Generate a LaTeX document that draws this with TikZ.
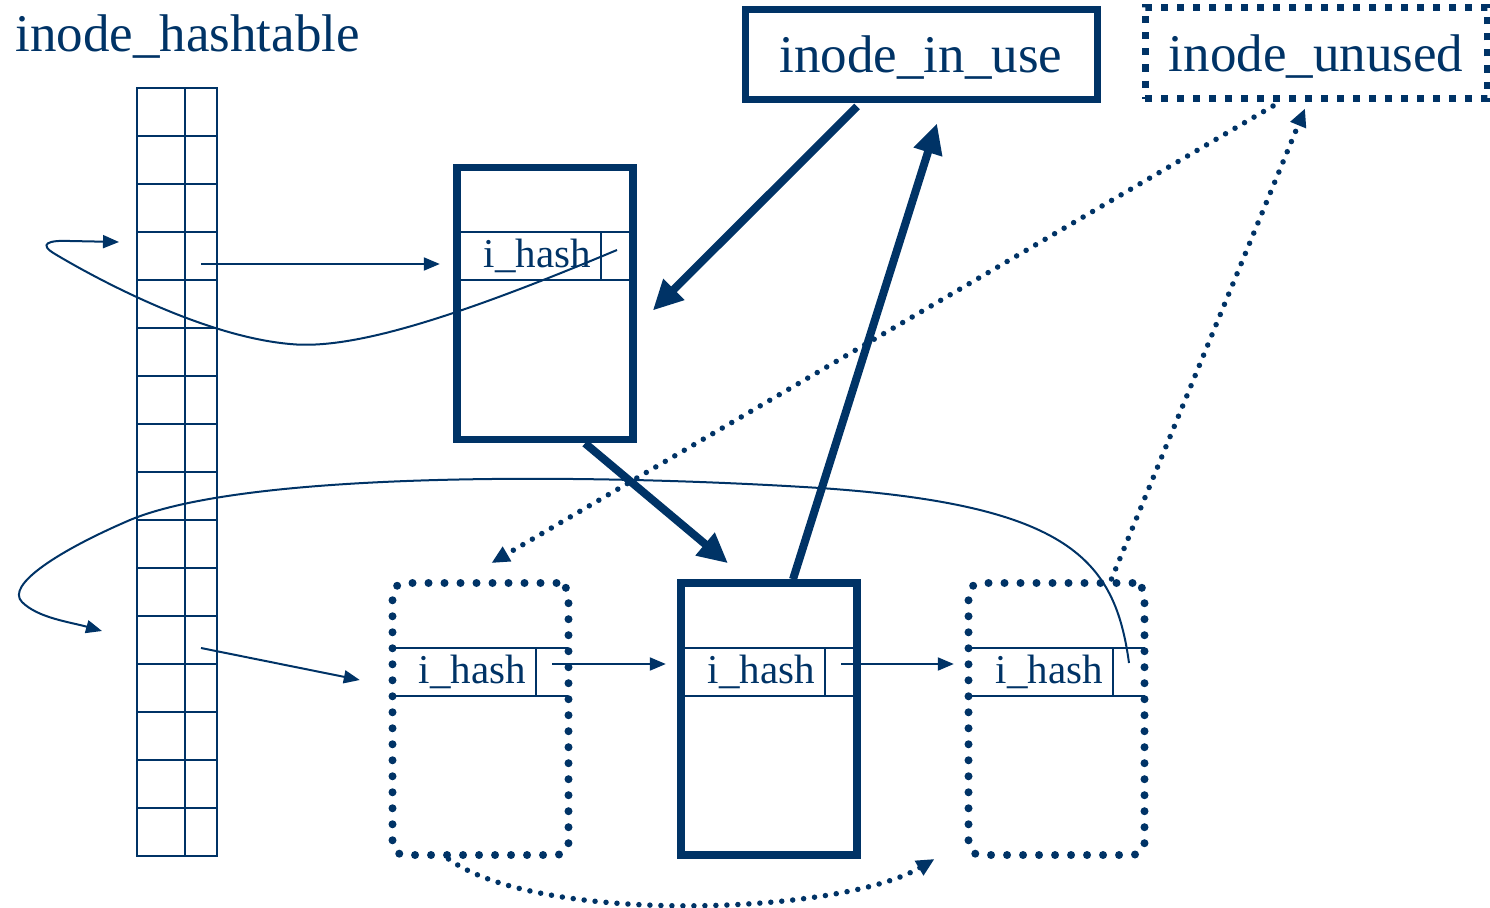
\documentclass[tikz,border=0pt]{standalone}
\usepackage{fontspec}
\setmainfont{Liberation Serif}
\usetikzlibrary{arrows.meta}
\definecolor{navy}{RGB}{0,51,102}

\begin{document}
\begin{tikzpicture}[x=1pt, y=-1pt, color=navy,
                    bigtext/.style={font=\fontsize{53}{60}\selectfont, text depth=0pt},
                    cell/.style={draw, line width=2pt, inner sep=0pt, minimum height=48pt},
                    inode/.style={draw, line width=7.5pt, inner sep=0pt, minimum width=176pt, minimum height=272pt},
                    freeinode/.style={draw, line width=8pt, dash pattern=on 0pt off 16pt, line cap=round,
                                      rounded corners=12pt, inner sep=0pt, minimum width=176pt, minimum height=272pt},
                    hashtxt/.style={inner xsep=10pt, inner ysep=0pt, text width=124pt, align=right,
                                    minimum height=48pt, font=\fontsize{41}{41}\selectfont},
                    ptr/.style={inner sep=0pt, minimum width=32pt, minimum height=48pt},
                    row/.style={line width=2pt},
                    link/.style={line width=2pt, -{Triangle[length=16pt, width=13pt]}},
                    bold/.style={line width=8pt, -{Triangle[length=30pt, width=28pt]}},
                    dots/.style={line width=5.5pt, dash pattern=on 0pt off 11pt, line cap=round,
                                 -{Triangle[length=18pt, width=16pt]}}]

\useasboundingbox (0,0) rectangle (1490,907);

% Hash table
\node[bigtext, anchor=base west] (title) at (12,52) {inode\_hashtable};
\foreach \i in {1,...,16} {
    \node[cell, minimum width=48pt] (k\i) at (161, 64+48*\i) {};
    \node[cell, minimum width=32pt] (p\i) at (201, 64+48*\i) {};
}

% Lists
\node[bigtext, draw, line width=7pt, minimum width=352pt, minimum height=89pt] (use) at (921,54.5) {inode\_in\_use};
\node[bigtext, draw, line width=7pt, dash pattern=on 7pt off 9pt, minimum width=342pt, minimum height=91pt] (unused) at (1316,53) {inode\_unused};

% Inodes
\node[inode] (iA) at (545,303.5) {};
\node[freeinode] (iB) at (480.5,719) {};
\node[inode] (iC) at (769,719) {};
\node[freeinode] (iD) at (1056.5,719) {};

\foreach \n/\x/\y in {A/529/256, B/464/672, C/753/672, D/1041/672} {
    \node[hashtxt] (h\n) at (\x,\y) {i\_hash};
    \node[ptr] (p\n) at (\x+88,\y) {};
    \draw[row] (h\n.north west) -- (p\n.north east)
               (h\n.south west) -- (p\n.south east)
               (h\n.north east) -- (h\n.south east);
}

% Hash chains
\draw[link] ([yshift=-8pt]p4.center) -- ([shift={(-17pt,-8pt)}]hA.west);
\draw[link] ([yshift=-8pt]p12.center) -- ([shift={(-32pt,-8pt)}]hB.west);
\draw[link] ([yshift=8pt]pB.center) -- ([shift={(-15pt,8pt)}]hC.west);
\draw[link] ([yshift=8pt]pC.center) -- ([shift={(-15pt,8pt)}]hD.west);

% Back pointers
\draw[link] ([yshift=6pt]pA.center) .. controls (450,320) and (350,350) .. (290,344)
    .. controls (200,336) and (90,275) .. (55,254)
    .. controls (38,244) and (48,240) .. (70,241) -- ([shift={(-17pt,14pt)}]k4.west);
\draw[link] ([yshift=9pt]pD.center) .. controls (1115,560) and (1070,505) .. (820,488)
    .. controls (600,474) and (250,470) .. (130,520)
    .. controls (60,550) and (5,585) .. (22,602)
    .. controls (38,618) and (70,622) .. ([shift={(-34pt,9pt)}]k12.west);

% In-use list
\draw[bold] ([shift={(-64pt,-4pt)}]use.south) -- ([shift={(16pt,-7pt)}]iA.east);
\draw[bold] ([xshift=40pt]iA.south) -- ([shift={(-41pt,16pt)}]iC.north);
\draw[bold] ([xshift=24pt]iC.north) -- ([shift={(16pt,-21pt)}]use.south);

% Unused list
\draw[dots] ([shift={(-43pt,-4pt)}]unused.south) -- ([shift={(11pt,16pt)}]iB.north);
\draw[dots] ([xshift=55pt]iD.north) -- ([shift={(-11pt,-6.5pt)}]unused.south);
\draw[dots] ([xshift=-32pt]iB.south) .. controls (540,925) and (840,915) .. ([xshift=-30pt]iD.south west);

\end{tikzpicture}
\end{document}
